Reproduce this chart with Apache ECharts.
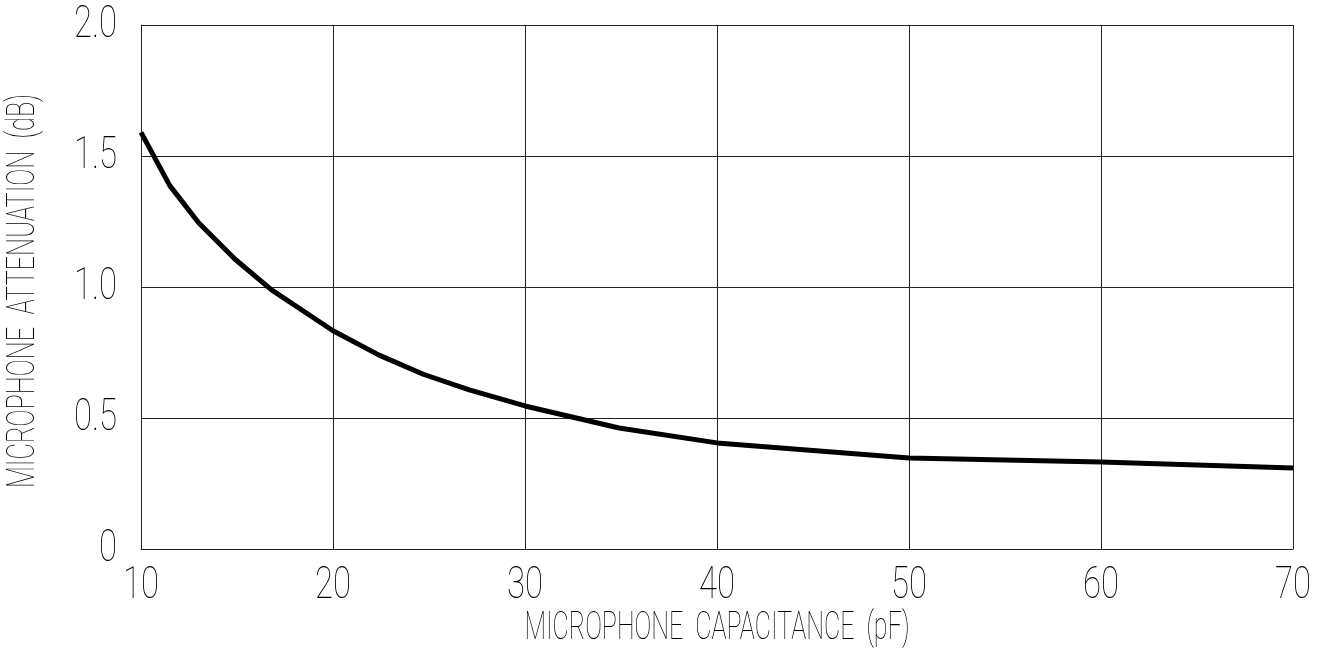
<!DOCTYPE html>
<html>
<head>
<meta charset="utf-8">
<script src="https://cdn.jsdelivr.net/npm/echarts@6/dist/echarts.min.js"></script>
<style>
  html, body { margin: 0; padding: 0; background: #fff; }
  #chart { width: 1326px; height: 651px; }
</style>
</head>
<body>
<div id="chart"></div>
<script>
// Microphone capacitance (pF) vs. attenuation (dB)
const capacitance = [10, 11.5, 13, 14.9, 16.8, 20, 22.4, 24.7, 27.1, 30, 34.9, 40, 50, 60, 70];
const attenuation = [1.59, 1.387, 1.245, 1.106, 0.989, 0.833, 0.740, 0.667, 0.607, 0.546, 0.462, 0.405, 0.347, 0.332, 0.309];
const xTicks = [10, 20, 30, 40, 50, 60, 70];
const yTicks = [0, 0.5, 1.0, 1.5, 2.0];
const yTickLabels = ['0', '0.5', '1.0', '1.5', '2.0'];
const xTitle = 'MICROPHONE  CAPACITANCE  (pF)';
const yTitle = 'MICROPHONE  ATTENUATION  (dB)';

// Thin, narrow drafting-style lettering: light face squeezed horizontally
const FONT = "Roboto, 'Liberation Sans', sans-serif";
const INK = '#000';
const lineStyle = { color: '#222', width: 1 };

const chart = echarts.init(document.getElementById('chart'), null, { renderer: 'canvas' });
chart.setOption({
  animation: false,
  backgroundColor: '#ffffff',
  grid: { left: 141, right: 33, top: 25, bottom: 102, containLabel: false },
  xAxis: {
    type: 'value',
    min: 10, max: 70, interval: 10,
    axisLine: { show: true, lineStyle: lineStyle },
    axisTick: { show: false },
    axisLabel: { show: false },
    splitLine: { show: true, lineStyle: lineStyle }
  },
  yAxis: {
    type: 'value',
    min: 0, max: 2.0, interval: 0.5,
    axisLine: { show: true, lineStyle: lineStyle },
    axisTick: { show: false },
    axisLabel: { show: false },
    splitLine: { show: true, lineStyle: lineStyle }
  },
  series: [{
    type: 'line',
    data: capacitance.map((c, i) => [c, attenuation[i]]),
    showSymbol: false,
    smooth: false,
    lineStyle: { color: '#000', width: 5, cap: 'butt', join: 'round' },
    clip: false
  }]
});

// Tick labels and axis titles, placed through the chart's own coordinate system
function textEl(text, x, y, size, align, sx, rotation) {
  return {
    type: 'text', x: x, y: y, scaleX: sx, scaleY: 1, rotation: rotation || 0,
    silent: true,
    style: {
      text: text, fill: INK, fontFamily: FONT, fontSize: size, fontWeight: 100,
      align: align, verticalAlign: 'middle'
    }
  };
}

const toPx = (x, y) => chart.convertToPixel({ gridIndex: 0 }, [x, y]);
const labels = [];
xTicks.forEach(v => {
  const p = toPx(v, 0);
  labels.push(textEl(String(v), p[0], p[1] + 38, 45, 'center', 0.73));
});
yTicks.forEach((v, i) => {
  const p = toPx(10, v);
  labels.push(textEl(yTickLabels[i], p[0] - 24, p[1] + 1, 45, 'right', 0.73));
});
const xMid = toPx(40, 0);
labels.push(textEl(xTitle, xMid[0], xMid[1] + 80, 38, 'center', 0.66));
const yMid = toPx(10, 1.0);
labels.push(textEl(yTitle, 24, yMid[1] + 4, 38, 'center', 0.67, Math.PI / 2));

chart.setOption({ graphic: { elements: labels } });
</script>
</body>
</html>
